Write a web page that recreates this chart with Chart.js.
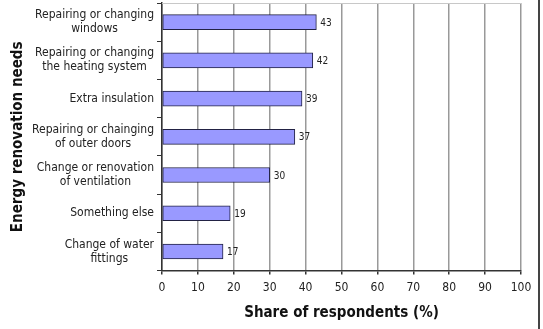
<!DOCTYPE html>
<html>
<head>
<meta charset="utf-8">
<script src="https://cdn.jsdelivr.net/npm/chart.js@4"></script>
<style>
  html, body { margin: 0; padding: 0; background: #fff; }
  #wrap { position: relative; width: 543px; height: 329px; }
  #frame { position: absolute; left: 538px; top: 0; width: 2px; height: 329px; background: #444; }
</style>
</head>
<body>
<div id="wrap">
  <canvas id="grafica" width="543" height="329"></canvas>
  <div id="frame"></div>
</div>
<script>
const categorias = [
    ['Repairing or changing', 'windows'],
    ['Repairing or changing', 'the heating system'],
    'Extra insulation',
    ['Repairing or chainging', 'of outer doors'],
    ['Change or renovation', 'of ventilation'],
    'Something else',
    ['Change of water', 'fittings']
];
const valores = [43, 42, 39, 37, 30, 19, 17];
const ticksX = [0, 10, 20, 30, 40, 50, 60, 70, 80, 90, 100];

const fuente = "'DejaVu Sans Condensed', 'DejaVu Sans', sans-serif";

// etiquetas de valor a la derecha de cada barra
const etiquetasValor = {
    id: 'etiquetasValor',
    afterDatasetsDraw(chart) {
        const ctx = chart.ctx;
        const meta = chart.getDatasetMeta(0);
        ctx.save();
        ctx.font = '10px ' + fuente;
        ctx.fillStyle = '#222';
        ctx.textBaseline = 'middle';
        meta.data.forEach((bar, i) => {
            ctx.fillText(String(valores[i]), bar.x + 4, bar.y + 1);
        });
        ctx.restore();
    }
};

// categorias: bloque alineado a la derecha, lineas centradas entre si
const etiquetasCategoria = {
    id: 'etiquetasCategoria',
    afterDraw(chart) {
        const ctx = chart.ctx;
        const y = chart.scales.y;
        const derecha = y.right - 8;
        const alto = 14;
        ctx.save();
        ctx.font = '12px ' + fuente;
        ctx.fillStyle = '#222';
        ctx.textAlign = 'center';
        ctx.textBaseline = 'middle';
        categorias.forEach((cat, i) => {
            const lineas = Array.isArray(cat) ? cat : [cat];
            const ancho = Math.max(...lineas.map(l => ctx.measureText(l).width));
            const cx = derecha - ancho / 2;
            const cy = y.getPixelForValue(i);
            lineas.forEach((l, j) => {
                ctx.fillText(l, cx, cy + (j - (lineas.length - 1) / 2) * alto);
            });
        });
        ctx.restore();
    }
};

// borde superior gris claro
const bordeSuperior = {
    id: 'bordeSuperior',
    beforeDatasetsDraw(chart) {
        const a = chart.chartArea;
        const ctx = chart.ctx;
        ctx.save();
        ctx.strokeStyle = '#c8c8c8';
        ctx.lineWidth = 1;
        ctx.beginPath();
        ctx.moveTo(a.left, a.top + 0.5);
        ctx.lineTo(a.right, a.top + 0.5);
        ctx.stroke();
        ctx.restore();
    }
};

new Chart(document.getElementById('grafica'), {
    type: 'bar',
    data: {
        labels: categorias,
        datasets: [{
            data: valores,
            backgroundColor: '#9999ff',
            borderColor: '#222244',
            borderWidth: 1,
            borderSkipped: false,
            barThickness: 15
        }]
    },
    options: {
        indexAxis: 'y',
        responsive: false,
        animation: false,
        layout: { padding: { top: 3, right: 22, bottom: 7, left: 0 } },
        plugins: {
            legend: { display: false },
            tooltip: { enabled: false }
        },
        scales: {
            x: {
                min: 0,
                max: 100,
                afterBuildTicks: s => { s.ticks = ticksX.map(v => ({ value: v })); },
                grid: { color: '#999', lineWidth: 1.5, tickLength: 4, tickColor: '#333' },
                border: { color: '#333', width: 1.5 },
                ticks: { color: '#222', font: { family: fuente, size: 12 }, padding: 6 },
                title: {
                    display: true,
                    text: 'Share of respondents (%)',
                    color: '#111',
                    font: { family: fuente, size: 15, weight: 'bold' },
                    padding: { top: 3, bottom: 0 }
                }
            },
            y: {
                afterFit: s => { s.width = 162; },
                grid: { offset: true, drawOnChartArea: false, tickLength: 5, tickColor: '#333' },
                border: { color: '#333', width: 1.5 },
                ticks: { display: false },
                title: {
                    display: true,
                    text: 'Energy renovation needs',
                    color: '#111',
                    font: { family: fuente, size: 15, weight: 'bold' },
                    padding: { top: 9, bottom: 0 }
                }
            }
        }
    },
    plugins: [etiquetasValor, etiquetasCategoria, bordeSuperior]
});
</script>
</body>
</html>
